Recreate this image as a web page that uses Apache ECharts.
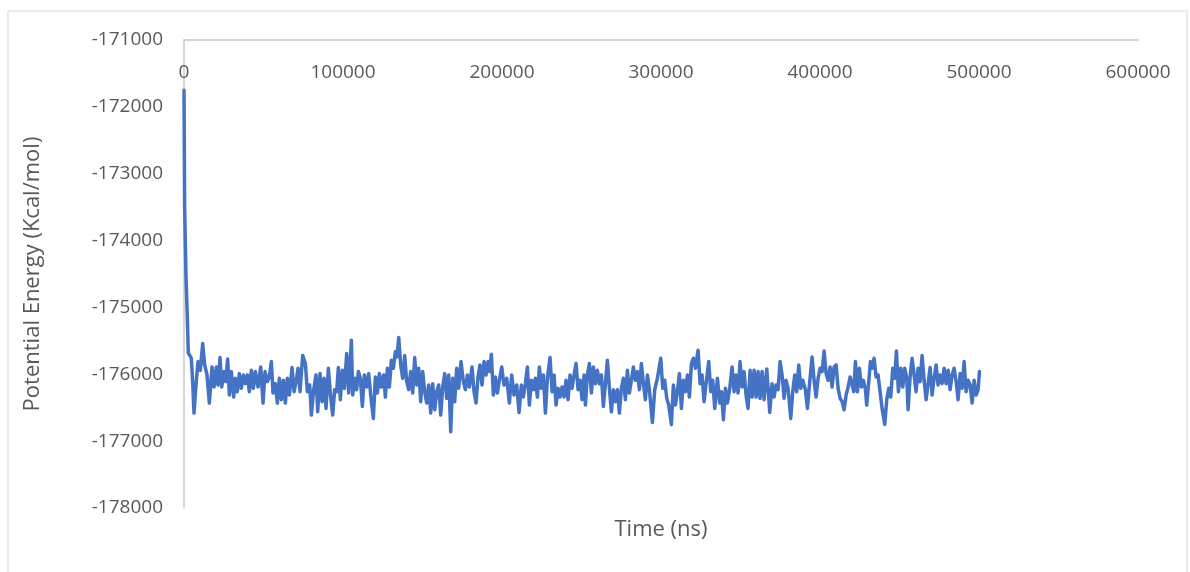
<!DOCTYPE html>
<html lang="en">
	<head>
		<meta charset="UTF-8">
		<title>Potential Energy</title>
		<script src="https://cdn.jsdelivr.net/npm/echarts@6/dist/echarts.min.js"></script>
		<style>
			html, body { margin: 0; padding: 0; background: #fff; }
			#main { width: 1190px; height: 572px; }
		</style>
	</head>
	<body>
		<div id="main"></div>
		<script>
			// time (ns) and potential energy (Kcal/mol)
			var times = [
				0, 400, 1260, 2100, 2700, 3350, 4600, 5450, 6290, 7550, 8800, 10280, 11740, 13000, 14470, 15940, 17620, 18880, 20340, 21390,
				22650, 23700, 25160, 26210, 27470, 28520, 29780, 31240, 32290, 33550, 34810, 36070, 37330, 38590, 39850, 41100, 42360, 43620, 44880, 46550,
				48230, 49700, 50960, 52430, 53680, 54940, 55990, 57460, 58720, 59980, 61230, 62490, 63750, 65010, 66270, 67950, 69210, 70470, 71730, 72980,
				74660, 76340, 77590, 79060, 80110, 81570, 83030,
				84080, 85550, 86800, 88060, 89320, 90790, 92260, 93520, 94770, 96030, 97080, 98340, 99600, 100850, 102320, 103580, 105260, 106100, 107560, 108610,
				109660, 110920, 112180, 113440, 114900, 116170, 117420, 119100, 120360, 121620, 122870, 124130, 125600, 126650, 127910, 129170, 130420, 131680, 132940, 133990,
				135040, 136290, 137550, 138810, 140070, 141320, 142580, 143840, 145100, 146360, 147620, 148870, 150130, 151390, 152650, 153910, 155170, 156430, 157680, 158940,
				160200, 161460, 162720, 163980, 165240, 166500, 167750,
				168990, 170250, 171500, 172760, 174230, 175700, 176960, 178210, 179470, 181150, 182410, 183670, 184930, 186180, 187440, 188700, 189960, 191220, 192260, 193310,
				194570, 195830, 197090, 198350, 199820, 201280, 202960, 204640, 206100, 207570, 209250, 210720, 212190, 213440, 214700, 215960, 217220, 218480, 219740, 221000,
				222250, 223510, 224770, 226030, 227290, 228550, 230220, 231480, 232740, 234000, 235250, 236510, 237770, 239030, 240290, 241540, 242800, 244060, 245320, 246580,
				247840, 249090, 250350, 251610, 252450,
				253700, 254960, 256210, 257470, 258730, 259990, 261250, 262500, 263760, 265020, 266280, 267540, 268800, 270050, 271310, 272570, 273830, 275090, 276350, 277600,
				278860, 280120, 281380, 282640, 283890, 285150, 286410, 287670, 288930, 290190, 291440, 292700, 294590, 296060, 297730, 299830, 301090, 302350, 303610, 304860,
				306540, 307800, 309060, 310320, 311580, 312830, 314090, 315350, 316610, 317870, 319130, 320380, 321640, 323320, 324580, 325840, 327090, 328350, 330030, 331290,
				332550, 333800, 335480,
				336940, 337990, 339250, 340500, 341760, 343230, 344700, 345950, 347210, 348470, 349730, 350990, 352250, 353500, 354760, 356020, 357280, 358540, 359800, 361050,
				362310, 363570, 364830, 366510, 368400, 369860, 371120, 372380, 373640, 374890, 376150, 377410, 378670, 379930, 381600, 382860, 384120, 385380, 386640, 387900,
				389150, 390830, 392090, 393350, 395020, 396280, 397540, 398800, 400060, 401320, 402580, 403840, 405090, 406350, 407610, 408870, 410130, 411390, 412650, 413900,
				415160, 416420, 417680, 418940, 420170,
				421220, 422270, 423530, 424780, 426040, 427300, 428560, 429390, 430650, 431700, 432750, 434010, 435270, 436530, 437780, 439040, 440720, 441980, 443240, 444500,
				445760, 447010, 448060, 449320, 450790, 452040, 453300, 454560, 455400, 456660, 457920, 459180, 460430, 461690, 462950, 464210, 465470, 466730, 467980, 469240,
				470500, 471760, 473020, 474280, 475530, 476790, 478050, 479310, 480570, 481830, 483080, 484340, 485600, 486860, 488120, 489380, 490630, 491890, 493150, 494410,
				495670, 496930, 498180, 499440, 500280
			];
			var energy = [
				-171750, -173500, -174550, -175160, -175680, -175660, -175760, -176110, -176580, -176160, -175810, -175940, -175540, -175860, -176010, -176430, -175890, -176190, -175890, -176160,
				-175750, -176190, -175960, -176110, -175770, -176310, -175960, -176340, -176060, -176260, -175990, -176210, -176010, -176140, -176010, -176260, -175940, -176210, -175960, -176190,
				-175890, -176430, -175960, -176110, -176040, -175810, -176280, -176140, -176430, -176060, -176380, -176090, -176430, -176060, -176310, -175900, -176260, -176110, -175910, -176260,
				-175720, -175840, -176260, -176160, -176610, -176230, -176010,
				-176560, -175990, -176410, -176060, -176510, -175910, -176340, -176610, -176230, -176260, -175900, -176380, -175940, -176210, -175690, -176280, -175490, -176310, -176060, -176230,
				-175960, -176060, -176480, -176010, -176190, -175990, -176310, -176660, -176040, -176280, -175990, -176190, -176010, -176340, -175910, -176190, -175790, -175910, -175660, -175740,
				-175450, -175860, -176060, -175720, -176110, -176230, -175960, -176280, -175750, -176160, -175910, -176410, -175960, -176260, -176430, -176160, -176580, -176140, -176530, -176260,
				-176160, -176610, -176190, -175990, -176360, -176010, -176860,
				-176060, -176410, -175910, -176210, -175810, -176110, -176230, -176010, -176190, -175890, -176260, -176430, -176040, -175860, -176160, -175810, -176010, -175810, -175960, -175700,
				-176310, -176040, -176280, -176090, -175890, -176160, -176060, -176430, -176010, -176310, -176160, -176570, -176160, -176340, -176140, -175890, -176460, -176090, -176230, -176060,
				-176340, -175890, -176210, -176010, -176580, -176060, -175750, -176260, -176010, -176460, -176210, -176340, -176190, -176340, -176090, -176380, -176010, -176210, -176010, -175840,
				-176230, -176090, -176380, -176010, -176460,
				-176010, -175840, -176280, -175890, -176140, -175940, -176140, -176010, -176480, -176140, -175790, -176210, -176560, -176230, -176410, -176230, -176580, -176210, -176060, -176380,
				-175940, -176280, -176090, -175890, -176090, -175960, -176230, -175840, -176140, -176380, -176010, -176230, -176720, -176230, -176060, -175760, -176210, -176090, -176360, -176460,
				-176750, -176160, -176460, -176260, -175990, -176510, -176090, -176260, -176010, -176340, -175840, -175760, -175910, -175640, -176140, -176010, -176410, -176140, -175810, -176260,
				-176090, -176510, -176060,
				-176430, -176260, -176680, -176210, -176430, -176210, -175890, -176260, -176010, -176280, -175810, -176190, -175960, -176310, -176510, -175940, -176340, -175940, -176340, -175960,
				-176360, -175960, -176380, -175920, -176570, -176140, -176340, -176160, -176230, -175810, -176010, -176360, -176090, -176210, -176660, -176260, -176010, -176260, -175860, -176210,
				-176090, -176230, -176510, -176160, -175740, -176090, -176340, -176060, -175910, -175960, -175650, -175990, -176090, -175890, -176190, -175890, -175860, -176210, -176360, -176410,
				-176530, -176310, -176190, -176040, -176060,
				-176260, -175810, -176260, -175910, -176190, -176090, -176230, -176460, -176110, -175810, -175910, -175760, -176040, -176010, -176260, -176510, -176750, -176380, -176210, -176340,
				-175910, -176060, -175650, -176260, -175910, -176190, -175910, -176060, -176530, -176040, -175760, -176010, -176260, -175910, -176110, -175720, -176090, -176380, -176140, -175900,
				-176310, -176060, -175860, -176160, -176010, -176140, -175910, -176140, -175940, -176230, -176010, -175910, -176110, -176380, -175990, -176210, -175810, -176260, -176090, -176160,
				-176430, -176090, -176310, -176230, -175960
			];
			var xTicks = [0, 100000, 200000, 300000, 400000, 500000, 600000];
			var yTicks = [-178000, -177000, -176000, -175000, -174000, -173000, -172000, -171000];

			var xName = 'Time (ns)';
			var yName = 'Potential Energy (Kcal/mol)';

			var chartDom = document.getElementById('main');
			var myChart = echarts.init(chartDom);

			var seriesData = times.map(function(t, i) {
				return [t, energy[i]];
			});

			// plain numbers, no thousands separators
			function plain(v) {
				return String(v);
			}

			var option = {
				animation: false,
				textStyle: { fontFamily: 'Open Sans' },
				grid: {
					left: 184,
					right: 52,
					top: 40,
					bottom: 64
				},
				graphic: [
					{ // chart frame
						type: 'rect',
						shape: { x: 8, y: 11, width: 1179, height: 600 },
						style: { fill: 'none', stroke: '#d9d9d9', lineWidth: 1 },
						silent: true
					},
					{
						type: 'text',
						x: 661,
						y: 530,
						style: {
							text: xName,
							align: 'center',
							verticalAlign: 'middle',
							fontFamily: 'Open Sans',
							fontSize: 22,
							fill: '#595959'
						}
					}
				],
				xAxis: {
					type: 'value',
					position: 'top',
					min: xTicks[0],
					max: xTicks[xTicks.length - 1],
					interval: xTicks[1] - xTicks[0],
					axisLine: { show: true, lineStyle: { color: '#c8c8c8', width: 1.5 } },
					axisTick: { show: false },
					splitLine: { show: false },
					axisLabel: {
						inside: true,
						margin: 23,
						fontSize: 19,
						color: '#595959',
						formatter: plain
					}
				},
				yAxis: {
					type: 'value',
					min: yTicks[0],
					max: yTicks[yTicks.length - 1],
					interval: yTicks[1] - yTicks[0],
					name: yName,
					nameLocation: 'middle',
					nameGap: 140,
					nameTextStyle: { fontSize: 22, color: '#595959' },
					axisLine: { show: true, lineStyle: { color: '#c8c8c8', width: 1.5 } },
					axisTick: { show: false },
					splitLine: { show: false },
					axisLabel: {
						margin: 21,
						fontSize: 19,
						color: '#595959',
						formatter: plain
					}
				},
				series: [{
					type: 'line',
					data: seriesData,
					showSymbol: false,
					symbol: 'none',
					lineStyle: { color: '#4472C4', width: 3.5, join: 'round', cap: 'round' },
					itemStyle: { color: '#4472C4' }
				}]
			};
			option && myChart.setOption(option);
		</script>
	</body>
</html>
